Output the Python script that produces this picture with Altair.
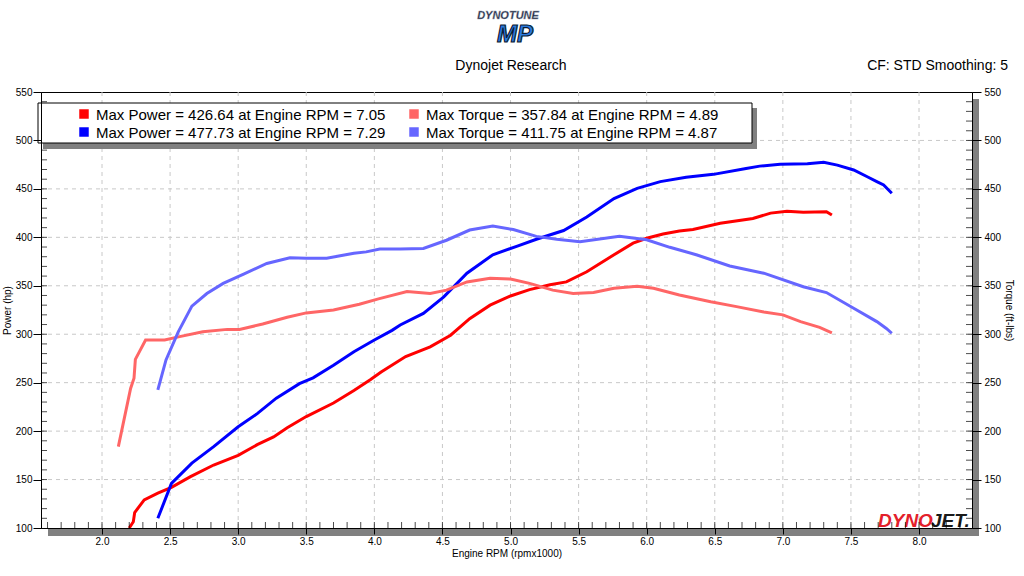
import altair as alt
import pandas as pd

# ---------------- data ----------------
run1_power_rpm = [2.20, 2.23, 2.24, 2.31, 2.41, 2.51, 2.65, 2.82, 3.00, 3.14, 3.26, 3.36, 3.50, 3.70, 3.85, 3.97, 4.05, 4.23, 4.41, 4.56, 4.70, 4.85, 5.00, 5.14, 5.29, 5.41, 5.56, 5.76, 5.90, 6.00, 6.12, 6.24, 6.34, 6.54, 6.78, 6.91, 7.03, 7.15, 7.32, 7.36]
run1_power_hp = [100, 106.5, 116, 129, 136, 142, 153, 165, 175, 186, 194, 203.5, 215, 229, 242, 253, 261, 277, 287, 299, 316, 330, 339.5, 346, 351, 354, 364.5, 382, 394, 399, 403.5, 406.5, 408, 414.5, 419.5, 425, 427, 426, 426.5, 423]

run1_torque_rpm = [2.12, 2.21, 2.235, 2.245, 2.32, 2.46, 2.57, 2.74, 2.92, 3.01, 3.18, 3.36, 3.50, 3.70, 3.89, 4.03, 4.24, 4.41, 4.53, 4.68, 4.85, 5.00, 5.14, 5.31, 5.46, 5.61, 5.76, 5.93, 6.05, 6.24, 6.47, 6.66, 6.86, 7.00, 7.13, 7.27, 7.36]
run1_torque_ftlb = [184, 244, 254.5, 274, 294, 294, 297.5, 302.5, 305, 305, 310.5, 317.5, 322, 325, 331, 336.5, 344, 342, 345.5, 354, 357.7, 357, 352.5, 345.5, 342, 343, 347.5, 349.5, 347.5, 340.5, 333.5, 328.5, 323, 320, 313, 307, 301.5]

run2_power_rpm = [2.41, 2.51, 2.66, 2.82, 3.00, 3.14, 3.28, 3.45, 3.55, 3.70, 3.85, 4.00, 4.13, 4.19, 4.36, 4.51, 4.68, 4.87, 5.05, 5.19, 5.39, 5.56, 5.76, 5.93, 6.10, 6.29, 6.49, 6.73, 6.83, 6.98, 7.18, 7.30, 7.40, 7.52, 7.62, 7.69, 7.74, 7.80]
run2_power_hp = [110, 146, 167, 184, 204.5, 218, 234, 249, 255, 268, 282, 294, 304, 309.5, 321.5, 338.5, 363, 382, 391, 398, 407, 421, 440, 450.5, 457.5, 462, 465, 471, 473.5, 475.5, 476, 477.5, 474.5, 469.5, 462.5, 457.5, 454, 445.5]

run2_torque_rpm = [2.41, 2.47, 2.56, 2.66, 2.77, 2.89, 3.04, 3.21, 3.38, 3.50, 3.65, 3.85, 3.94, 4.04, 4.19, 4.36, 4.53, 4.70, 4.87, 5.02, 5.19, 5.34, 5.51, 5.80, 6.00, 6.17, 6.37, 6.61, 6.86, 7.15, 7.32, 7.52, 7.69, 7.76, 7.80]
run2_torque_ftlb = [242.5, 273.5, 302.5, 329, 342, 352.5, 362, 373, 379, 378.5, 378.5, 383.5, 385, 388, 388, 388.5, 397, 407.5, 411.7, 408, 401, 398, 395.5, 401, 397.5, 389.7, 381.8, 370.4, 363, 349, 343, 326.8, 313, 306, 301]

series_names = ["Run 1 Power", "Run 1 Torque", "Run 2 Power", "Run 2 Torque"]
series_colors = ["#ff0000", "#ff6666", "#0000ff", "#6666ff"]

legend_labels = [
    "Max Power = 426.64 at Engine RPM = 7.05",
    "Max Torque = 357.84 at Engine RPM = 4.89",
    "Max Power = 477.73 at Engine RPM = 7.29",
    "Max Torque = 411.75 at Engine RPM = 4.87",
]

x_major = [2.0, 2.5, 3.0, 3.5, 4.0, 4.5, 5.0, 5.5, 6.0, 6.5, 7.0, 7.5, 8.0]
x_minor = [round(1.6 + 0.1 * i, 1) for i in range(68)]
y_major = [100, 150, 200, 250, 300, 350, 400, 450, 500, 550]
y_minor = list(range(110, 550, 10))

X_DOMAIN = [1.552, 8.389]
Y_DOMAIN = [100, 550]
W, H = 931, 436
FONT = "Liberation Sans"

# ---------------- frames ----------------
power_df = pd.concat([
    pd.DataFrame({"rpm": run1_power_rpm, "value": run1_power_hp, "series": series_names[0]}),
    pd.DataFrame({"rpm": run2_power_rpm, "value": run2_power_hp, "series": series_names[2]}),
])
torque_df = pd.concat([
    pd.DataFrame({"rpm": run1_torque_rpm, "value": run1_torque_ftlb, "series": series_names[1]}),
    pd.DataFrame({"rpm": run2_torque_rpm, "value": run2_torque_ftlb, "series": series_names[3]}),
])

xs = alt.Scale(domain=X_DOMAIN, nice=False, zero=False)
ys = alt.Scale(domain=Y_DOMAIN, nice=False, zero=False)
cs = alt.Scale(domain=series_names, range=series_colors)
one = pd.DataFrame({"a": [0]})

x_axis = alt.Axis(values=x_major, format=".1f", tickSize=6, labelPadding=2, grid=False,
                  title="Engine RPM (rpmx1000)", titlePadding=2, zindex=1)

# grid
xgrid = alt.Chart(pd.DataFrame({"rpm": x_major})).mark_rule(
    color="#c8c8c8", strokeDash=[4, 4], strokeWidth=1
).encode(x=alt.X("rpm:Q", scale=xs, axis=x_axis))
ygrid = alt.Chart(pd.DataFrame({"g": y_major[1:-1]})).mark_rule(
    color="#c8c8c8", strokeDash=[4, 4], strokeWidth=1
).encode(y=alt.Y("g:Q", scale=ys, axis=None))

# shadows
shadow_bottom = alt.Chart(one).mark_rect(color="#808080").encode(
    x=alt.value(7), x2=alt.value(938), y=alt.value(437), y2=alt.value(444))
shadow_right = alt.Chart(one).mark_rect(color="#808080").encode(
    x=alt.value(932), x2=alt.value(938), y=alt.value(7), y2=alt.value(444))

# lines
power_lines = alt.Chart(power_df).mark_line(strokeWidth=3).encode(
    x=alt.X("rpm:Q", scale=xs, axis=x_axis),
    y=alt.Y("value:Q", scale=ys, axis=alt.Axis(
        orient="left", values=y_major, tickSize=8, labelPadding=1, grid=False,
        title="Power (hp)", titlePadding=3, zindex=1)),
    color=alt.Color("series:N", scale=cs, legend=None),
    order="rpm:Q",
)
torque_lines = alt.Chart(torque_df).mark_line(strokeWidth=3).encode(
    x=alt.X("rpm:Q", scale=xs, axis=x_axis),
    y=alt.Y("value:Q", scale=ys, axis=alt.Axis(
        orient="right", values=y_major, tickSize=9, labelPadding=3, grid=False,
        title="Torque (ft-lbs)", titlePadding=3, zindex=1)),
    color=alt.Color("series:N", scale=cs, legend=None),
    order="rpm:Q",
)

# minor ticks (inside)
xticks = alt.Chart(pd.DataFrame({"rpm": x_minor})).mark_tick(
    color="black", size=6, thickness=1
).encode(x=alt.X("rpm:Q", scale=xs, axis=x_axis), y=alt.value(H - 3))
yticks_l = alt.Chart(pd.DataFrame({"t": y_minor})).mark_tick(
    color="black", size=6, thickness=1
).encode(y=alt.Y("t:Q", scale=ys, axis=None), x=alt.value(3))
yticks_r = alt.Chart(pd.DataFrame({"t": y_minor})).mark_tick(
    color="black", size=6, thickness=1
).encode(y=alt.Y("t:Q", scale=ys, axis=None), x=alt.value(W - 3))

# legend box
leg_shadow = alt.Chart(one).mark_rect(color="#808080").encode(
    x=alt.value(2), x2=alt.value(716), y=alt.value(16), y2=alt.value(57))
leg_box = alt.Chart(one).mark_rect(fill="white", stroke="black", strokeWidth=1).encode(
    x=alt.value(-3), x2=alt.value(711), y=alt.value(11), y2=alt.value(51))
leg_layers = [leg_shadow, leg_box]
col_x = [43, 373]
row_y = [22, 40]
for i, (lab, colr) in enumerate(zip(legend_labels, series_colors)):
    cx = col_x[i % 2]
    cy = row_y[i // 2]
    leg_layers.append(alt.Chart(one).mark_square(size=90, color=colr, opacity=1).encode(
        x=alt.value(cx), y=alt.value(cy)))
    leg_layers.append(alt.Chart(one).mark_text(
        text=lab, font=FONT, fontSize=15, align="left", baseline="middle", color="black"
    ).encode(x=alt.value(cx + 12), y=alt.value(cy + 1)))

# header texts
t_center = alt.Chart(one).mark_text(text="Dynojet Research", font=FONT, fontSize=14,
                                     align="center", baseline="middle", color="black").encode(
    x=alt.value(470), y=alt.value(-26))
t_right = alt.Chart(one).mark_text(text="CF: STD Smoothing: 5", font=FONT, fontSize=14,
                                    align="right", baseline="middle", color="black").encode(
    x=alt.value(967), y=alt.value(-26))
logo1 = alt.Chart(one).mark_text(text="DYNOTUNE", font=FONT, fontSize=11, fontWeight="bold",
                                  fontStyle="italic", align="center", baseline="middle",
                                  color="#1c2740", stroke="#9aa3b5", strokeWidth=0.4).encode(
    x=alt.value(467), y=alt.value(-76))
logo2 = alt.Chart(one).mark_text(text="MP", font=FONT, fontSize=24, fontWeight="bold",
                                  fontStyle="italic", align="center", baseline="middle",
                                  color="#2b7be0", stroke="#0b1a33", strokeWidth=1.2).encode(
    x=alt.value(474), y=alt.value(-57))
dyno = alt.Chart(one).mark_text(text="DYNO", font=FONT, fontSize=19, fontWeight="bold",
                                 fontStyle="italic", align="left", baseline="alphabetic",
                                 color="#e3202a").encode(x=alt.value(837), y=alt.value(H - 1))
jet = alt.Chart(one).mark_text(text="JET.", font=FONT, fontSize=19, fontWeight="bold",
                                fontStyle="italic", align="left", baseline="alphabetic",
                                color="#1a1a1a").encode(x=alt.value(890), y=alt.value(H - 1))

chart = alt.layer(
    xgrid, ygrid, shadow_bottom, shadow_right, dyno, jet,
    power_lines, torque_lines, xticks, yticks_l, yticks_r,
    *leg_layers, t_center, t_right, logo1, logo2,
).resolve_scale(y="independent").properties(
    width=W, height=H,
    autosize=alt.AutoSizeParams(type="none"),
    padding={"left": 41, "top": 92, "right": 52, "bottom": 48},
    background="white",
).configure_view(stroke="black", strokeWidth=1).configure_axis(
    labelFont=FONT, labelFontSize=10, labelColor="black",
    titleFont=FONT, titleFontSize=10, titleFontWeight="normal", titleColor="black",
    domainColor="black", tickColor="black", domainWidth=1,
)

chart.save("out.html", embed_options={"renderer": "svg", "actions": False})
